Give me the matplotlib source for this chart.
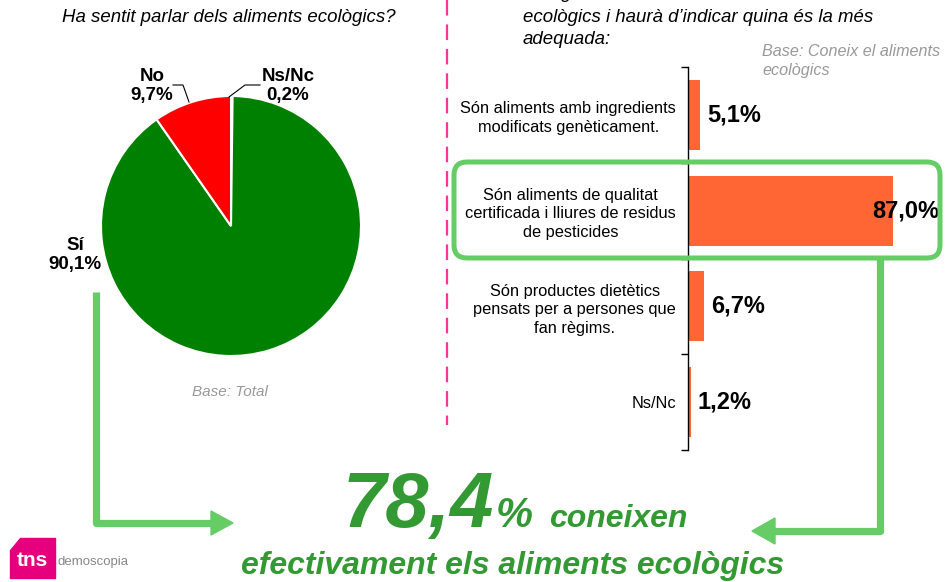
import matplotlib
matplotlib.use("Agg")
import matplotlib.pyplot as plt
from matplotlib.patches import FancyBboxPatch, Polygon

plt.rcParams['font.family'] = ['Liberation Sans', 'DejaVu Sans']

# pie data
pie_labels = ['Ns/Nc', 'Sí', 'No']
pie_values = [0.2, 90.1, 9.7]
pie_text = ['0,2%', '90,1%', '9,7%']
pie_colors = ['#008000', '#008000', '#ff0000']

# bar data
bar_labels = ['Són aliments amb ingredients\nmodificats genèticament.',
              'Són aliments de qualitat\ncertificada i lliures de residus\nde pesticides',
              'Són productes dietètics\npensats per a persones que\nfan règims.',
              'Ns/Nc']
bar_values = [5.1, 87.0, 6.7, 1.2]
bar_text = ['5,1%', '87,0%', '6,7%', '1,2%']

W, H = 946, 582
fig = plt.figure(figsize=(W / 100, H / 100), dpi=100)


def box(x0, y0, x1, y1):
    # pixel box (top-left origin) -> figure fraction
    return [x0 / W, 1 - y1 / H, (x1 - x0) / W, (y1 - y0) / H]


# ---- pie ----
axp = fig.add_axes(box(101, 96, 361, 356))
axp.pie(pie_values, colors=pie_colors, startangle=90, counterclock=False,
        wedgeprops=dict(edgecolor='white', linewidth=1.5))
axp.set_xlim(-1, 1)
axp.set_ylim(-1, 1)
axp.set_aspect('equal')

# ---- bars ----
axb = fig.add_axes(box(688, 67, 924, 450))
ypos = list(range(1, len(bar_values) + 1))
axb.barh(ypos, bar_values, height=0.73, color='#ff6633')
axb.set_xlim(0, 100)
axb.set_ylim(len(bar_values) + 0.5, 0.5)
for s in ['top', 'right', 'bottom']:
    axb.spines[s].set_visible(False)
axb.spines['left'].set_linewidth(1.0)
axb.set_xticks([])
axb.set_yticks(ypos)
axb.set_yticklabels(bar_labels, fontsize=11.8, ha='right', multialignment='center',
                    linespacing=1.3)
axb.tick_params(axis='y', which='major', length=0, pad=8.5)
axb.set_yticks([y - 0.5 for y in ypos] + [ypos[-1] + 0.5], minor=True)
axb.tick_params(axis='y', which='minor', length=5, direction='out', width=1.0)
vmax = max(bar_values)
for y, v, t in zip(ypos, bar_values, bar_text):
    if v == vmax:
        axb.annotate(t, (v, y), xytext=(46, 0), textcoords='offset pixels', ha='right',
                     va='center', fontsize=17, fontweight='bold', annotation_clip=False)
    else:
        axb.annotate(t, (v, y), xytext=(7, 0), textcoords='offset pixels', ha='left',
                     va='center', fontsize=17, fontweight='bold', annotation_clip=False)

# ---- overlay in pixel coords ----
ax = fig.add_axes([0, 0, 1, 1])
ax.set_xlim(0, W)
ax.set_ylim(H, 0)
ax.axis('off')
ax.patch.set_alpha(0)

green = '#66cc66'
dark_green = '#339933'

ax.text(229, 17, 'Ha sentit parlar dels aliments ecològics?', fontsize=13.4, style='italic',
        ha='center', va='center')

# pie labels
ax.text(152, 86, 'No\n9,7%', fontsize=13.5, fontweight='bold', ha='center', va='center',
        linespacing=1.15)
ax.text(288, 86, 'Ns/Nc\n0,2%', fontsize=13.5, fontweight='bold', ha='center', va='center',
        linespacing=1.15)
ax.text(75, 255, 'Sí\n90,1%', fontsize=13.5, fontweight='bold', ha='center', va='center',
        linespacing=1.15)
ax.plot([173, 183, 189], [85, 85, 102], color='black', lw=0.8)
ax.plot([260, 245, 229], [85, 85, 97], color='black', lw=0.8)
ax.text(230, 392, 'Base: Total', fontsize=11, style='italic', color='#999999',
        ha='center', va='center')

# divider
ax.plot([447, 447], [0, 425], color='#ff3399', lw=1.6, dashes=(7, 4))

# right titles (first line is cut by the top edge, as in the original)
ax.text(523, -6, 'Li llegiré diverses definicions dels aliments', fontsize=13.4,
        style='italic', ha='left', va='center')
ax.text(523, 17, 'ecològics i haurà d’indicar quina és la més', fontsize=13.4,
        style='italic', ha='left', va='center')
ax.text(523, 40, 'adequada:', fontsize=13.4, style='italic', ha='left', va='center')
ax.text(762, 61, 'Base: Coneix el aliments\necològics', fontsize=11.6, style='italic',
        color='#999999', ha='left', va='center', linespacing=1.3)

# highlight box
ax.add_patch(FancyBboxPatch((454, 162), 486, 96, boxstyle='round,pad=0,rounding_size=13',
                            fill=False, edgecolor=green, lw=3.6))

# arrows
ax.plot([96, 96, 214], [292, 523, 523], color=green, lw=5.2, solid_joinstyle='round',
        solid_capstyle='butt')
ax.add_patch(Polygon([(211, 511), (233, 523), (211, 535)], color=green))
ax.plot([880, 880, 772], [258, 531, 531], color=green, lw=5.2, solid_joinstyle='round',
        solid_capstyle='butt')
ax.add_patch(Polygon([(775, 518), (752, 531), (775, 544)], color=green))

# headline
ax.text(343, 527, '78,4', fontsize=56, fontweight='bold', style='italic', color=dark_green,
        ha='left', va='baseline')
ax.text(496, 527, '%', fontsize=30, fontweight='bold', style='italic', color=dark_green,
        ha='left', va='baseline')
ax.text(549, 527, 'coneixen', fontsize=23, fontweight='bold', style='italic', color=dark_green,
        ha='left', va='baseline')
ax.text(513, 574, 'efectivament els aliments ecològics', fontsize=23, fontweight='bold',
        style='italic', color=dark_green, ha='center', va='baseline')

# logo
ax.add_patch(Polygon([(20, 538), (55, 538), (55, 578), (10, 578), (10, 550)],
                     closed=True, color='#e6007e', joinstyle='round'))
ax.text(32, 561, 'tns', fontsize=15, fontweight='bold', color='white', ha='center',
        va='center')
ax.text(57, 562, 'demoscopia', fontsize=9.5, color='#888888', ha='left', va='center')

fig.savefig('out.png', dpi=100)
